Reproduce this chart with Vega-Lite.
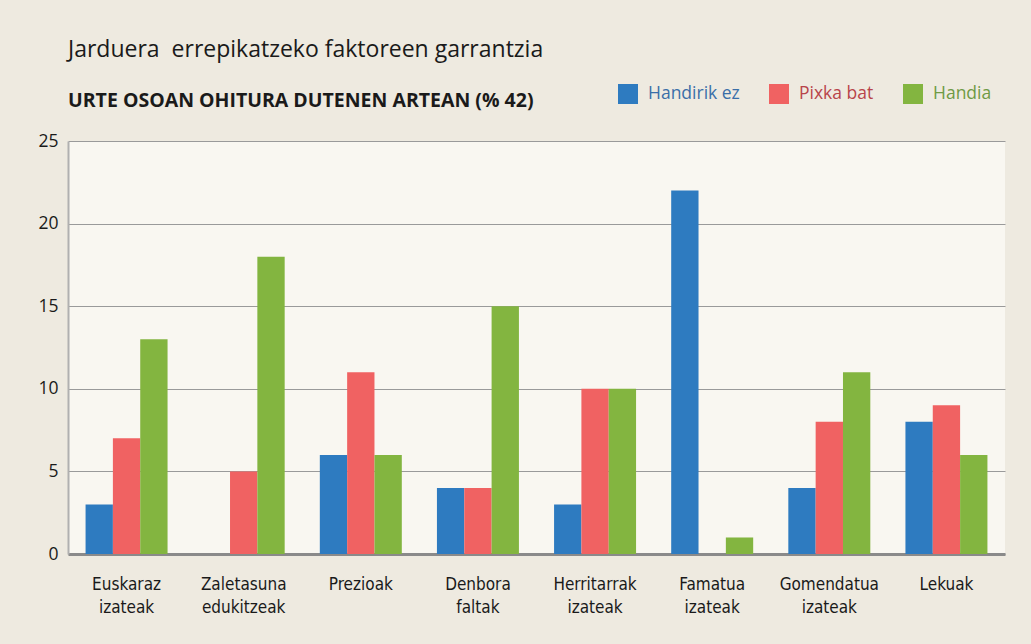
{
  "$schema": "https://vega.github.io/schema/vega-lite/v6.json",
  "width": 937,
  "height": 413,
  "autosize": {"type": "none"},
  "padding": {"left": 68, "top": 141, "right": 26, "bottom": 90},
  "background": "#eeeae0",
  "title": {
    "text": "Jarduera\u00a0 errepikatzeko faktoreen garrantzia",
    "subtitle": "URTE OSOAN OHITURA DUTENEN ARTEAN (% 42)",
    "anchor": "start",
    "frame": "group",
    "font": "Open Sans",
    "fontSize": 23,
    "fontWeight": "normal",
    "color": "#1a1a1a",
    "subtitleFont": "Open Sans",
    "subtitleFontSize": 19.5,
    "subtitleFontWeight": "bold",
    "subtitleColor": "#1a1a1a",
    "subtitlePadding": 30,
    "offset": -26
  },
  "data": {
    "values": [
      {"factor": "Euskaraz izateak", "maila": "Handirik ez", "balioa": 3},
      {"factor": "Euskaraz izateak", "maila": "Pixka bat", "balioa": 7},
      {"factor": "Euskaraz izateak", "maila": "Handia", "balioa": 13},
      {"factor": "Zaletasuna edukitzeak", "maila": "Handirik ez", "balioa": 0},
      {"factor": "Zaletasuna edukitzeak", "maila": "Pixka bat", "balioa": 5},
      {"factor": "Zaletasuna edukitzeak", "maila": "Handia", "balioa": 18},
      {"factor": "Prezioak", "maila": "Handirik ez", "balioa": 6},
      {"factor": "Prezioak", "maila": "Pixka bat", "balioa": 11},
      {"factor": "Prezioak", "maila": "Handia", "balioa": 6},
      {"factor": "Denbora faltak", "maila": "Handirik ez", "balioa": 4},
      {"factor": "Denbora faltak", "maila": "Pixka bat", "balioa": 4},
      {"factor": "Denbora faltak", "maila": "Handia", "balioa": 15},
      {"factor": "Herritarrak izateak", "maila": "Handirik ez", "balioa": 3},
      {"factor": "Herritarrak izateak", "maila": "Pixka bat", "balioa": 10},
      {"factor": "Herritarrak izateak", "maila": "Handia", "balioa": 10},
      {"factor": "Famatua izateak", "maila": "Handirik ez", "balioa": 22},
      {"factor": "Famatua izateak", "maila": "Pixka bat", "balioa": 0},
      {"factor": "Famatua izateak", "maila": "Handia", "balioa": 1},
      {"factor": "Gomendatua izateak", "maila": "Handirik ez", "balioa": 4},
      {"factor": "Gomendatua izateak", "maila": "Pixka bat", "balioa": 8},
      {"factor": "Gomendatua izateak", "maila": "Handia", "balioa": 11},
      {"factor": "Lekuak", "maila": "Handirik ez", "balioa": 8},
      {"factor": "Lekuak", "maila": "Pixka bat", "balioa": 9},
      {"factor": "Lekuak", "maila": "Handia", "balioa": 6}
    ]
  },
  "mark": {"type": "bar"},
  "encoding": {
    "x": {
      "field": "factor",
      "type": "nominal",
      "sort": null,
      "scale": {"paddingInner": 0.3, "paddingOuter": 0.15},
      "axis": {
        "title": null,
        "labelAngle": 0,
        "labelExpr": "split(datum.label, ' ')",
        "labelFont": "DejaVu Sans Condensed",
        "labelFontSize": 17,
        "labelColor": "#1a1a1a",
        "labelPadding": 22,
        "labelLineHeight": 23,
        "ticks": false,
        "domainColor": "#8a8a8a",
        "domainWidth": 3,
        "grid": false
      }
    },
    "xOffset": {"field": "maila", "type": "nominal", "sort": ["Handirik ez", "Pixka bat", "Handia"]},
    "y": {
      "field": "balioa",
      "type": "quantitative",
      "scale": {"domain": [0, 25], "nice": false},
      "axis": {
        "title": null,
        "values": [0, 5, 10, 15, 20, 25],
        "labelFont": "Open Sans",
        "labelFontSize": 17.5,
        "labelColor": "#1a1a1a",
        "labelPadding": 10,
        "ticks": false,
        "domainColor": "#b0b0b0",
        "domainWidth": 2,
        "gridColor": "#9a9a9a",
        "gridWidth": 1
      }
    },
    "color": {
      "field": "maila",
      "type": "nominal",
      "sort": ["Handirik ez", "Pixka bat", "Handia"],
      "scale": {"domain": ["Handirik ez", "Pixka bat", "Handia"], "range": ["#2e7bc0", "#f06262", "#83b540"]},
      "legend": {
        "title": null,
        "orient": "none",
        "legendX": 550,
        "legendY": -57,
        "direction": "horizontal",
        "symbolType": "square",
        "symbolSize": 400,
        "symbolStrokeWidth": 0,
        "labelFont": "Open Sans",
        "labelFontSize": 17.5,
        "labelColor": {"expr": "datum.value == 'Handirik ez' ? '#3a6fa8' : datum.value == 'Pixka bat' ? '#b8444a' : '#6f9a45'"},
        "columnPadding": 29,
        "labelOffset": 10
      }
    }
  },
  "config": {
    "view": {"fill": "#f9f7f1", "stroke": null}
  }
}
